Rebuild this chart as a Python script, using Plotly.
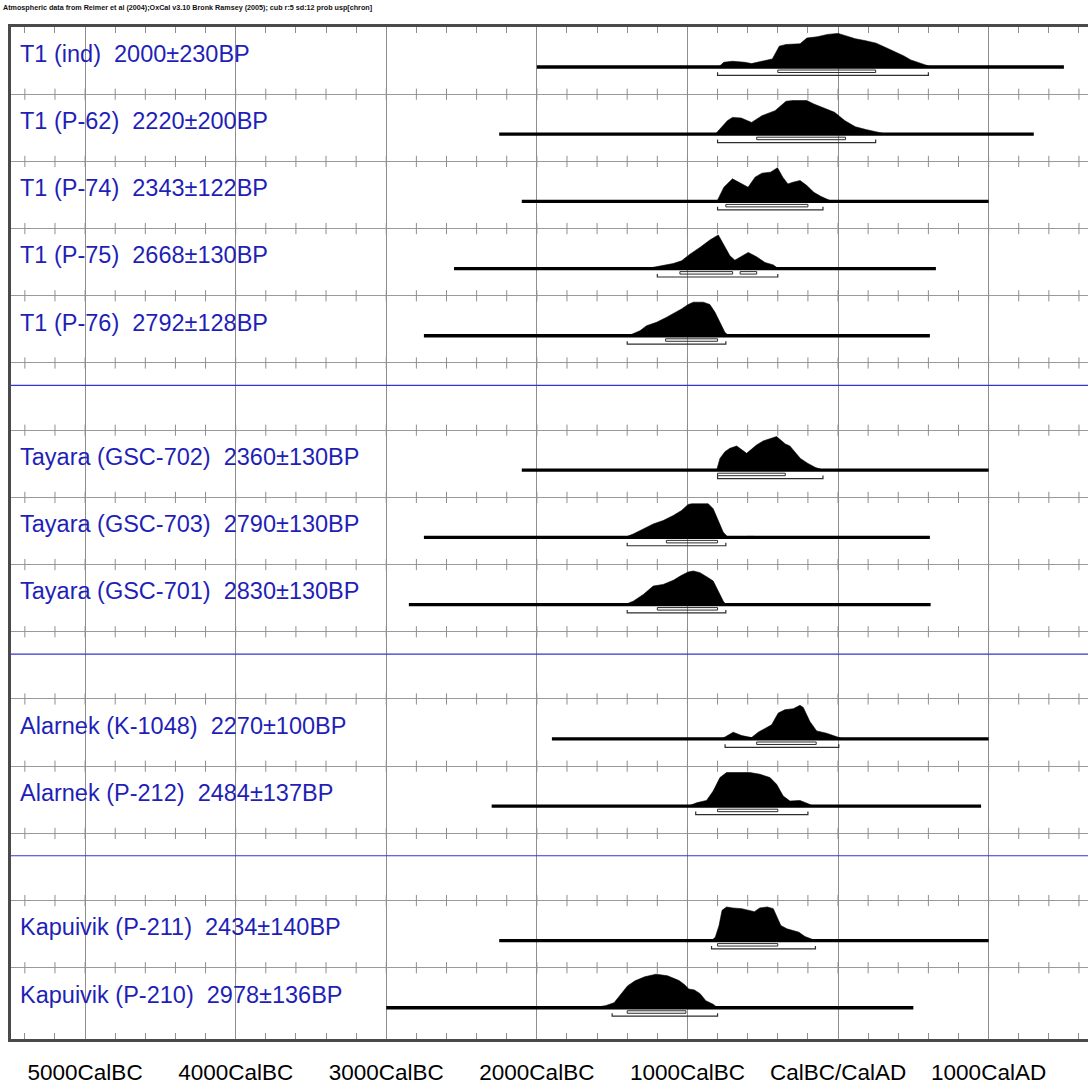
import plotly.graph_objects as go

# ---- samples (top to bottom) ----
names = ["T1 (ind)", "T1 (P-62)", "T1 (P-74)", "T1 (P-75)", "T1 (P-76)",
         "Tayara (GSC-702)", "Tayara (GSC-703)", "Tayara (GSC-701)",
         "Alarnek (K-1048)", "Alarnek (P-212)",
         "Kapuivik (P-211)", "Kapuivik (P-210)"]
bp_ages = [2000, 2220, 2343, 2668, 2792, 2360, 2790, 2830, 2270, 2484, 2434, 2978]
bp_errors = [230, 200, 122, 130, 128, 130, 130, 130, 100, 137, 140, 136]
rows = [0, 1, 2, 3, 4, 6, 7, 8, 10, 11, 13, 14]
spacer_rows = [5, 9, 12]

# calibrated span line of each sample (cal years, BC negative)
span_start = [-2000, -2250, -2100, -2550, -2750, -2100, -2750, -2850, -1900, -2300, -2250, -3000]
span_end = [1500, 1300, 1000, 650, 610, 1000, 610, 615, 1000, 950, 1000, 500]

# 68.2% and 95.4% probability ranges
range68 = [[(-400, 250)], [(-540, 50)], [(-745, -200)], [(-1050, -700), (-650, -540)],
           [(-1145, -800)], [(-800, -350)], [(-1140, -800)], [(-1200, -800)],
           [(-540, -145)], [(-800, -400)], [(-800, -400)], [(-1400, -1010)]]
range95 = [[(-800, 600)], [(-800, 250)], [(-800, -100)], [(-1200, -400)],
           [(-1400, -745)], [(-800, -100)], [(-1400, -745)], [(-1400, -745)],
           [(-750, 5)], [(-945, -200)], [(-840, -150)], [(-1500, -800)]]

# calibrated probability distributions: cal year, relative probability (%)
t1_ind_yr = [-793, -758, -701, -620, -574, -505, -436, -390, -345, -252, -207, -137, -69, 0,
             69, 115, 184, 253, 345, 437, 483, 552, 598, 620]
t1_ind_p = [0, 14, 17, 14, 10, 17, 24, 62, 67, 69, 86, 90, 97, 100, 90, 84, 78, 71, 52, 33,
            21, 10, 2, 0]
t1_p62_yr = [-815, -735, -701, -643, -574, -505, -418, -345, -299, -207, -161, -92, -23, 46,
             115, 184, 253, 299, 322]
t1_p62_p = [0, 40, 50, 48, 35, 55, 70, 98, 100, 100, 90, 78, 65, 40, 22, 14, 8, 2, 0]
t1_p74_yr = [-804, -758, -701, -643, -597, -551, -505, -448, -402, -367, -333, -299, -252,
             -207, -161, -115, -80, -40]
t1_p74_p = [0, 42, 67, 52, 42, 72, 84, 87, 100, 72, 52, 57, 62, 47, 27, 15, 8, 0]
t1_p75_yr = [-1271, -1183, -1094, -1039, -983, -917, -851, -795, -762, -718, -685, -651,
             -596, -541, -485, -430, -397]
t1_p75_p = [0, 7, 15, 23, 43, 63, 85, 100, 73, 38, 25, 33, 48, 35, 18, 11, 0]
t1_p76_yr = [-1393, -1361, -1315, -1271, -1205, -1138, -1094, -1039, -995, -961, -895, -851,
             -817, -784, -751, -729, -718, -620, -605, -585, -570]
t1_p76_p = [0, 7, 15, 30, 40, 55, 65, 80, 93, 100, 100, 93, 70, 40, 10, 2, 0, 0, 4, 4, 0]
gsc702_yr = [-806, -784, -751, -718, -673, -607, -541, -497, -408, -380, -350, -320, -290,
             -250, -200, -150, -110, -95]
gsc702_p = [0, 35, 55, 65, 72, 50, 75, 87, 100, 90, 78, 72, 55, 35, 20, 8, 2, 0]
gsc703_yr = [-1415, -1360, -1293, -1227, -1161, -1094, -1039, -995, -972, -862, -829, -795,
             -762, -740, -729, -620, -605, -560, -545]
gsc703_p = [0, 10, 25, 40, 50, 65, 80, 98, 100, 100, 85, 50, 15, 5, 0, 0, 3, 3, 0]
gsc701_yr = [-1415, -1360, -1293, -1227, -1161, -1094, -1039, -995, -961, -917, -862, -829,
             -795, -762, -744, -620, -605, -575, -560]
gsc701_p = [0, 10, 30, 55, 60, 72, 87, 97, 100, 95, 80, 70, 40, 10, 0, 0, 2, 2, 0]
k1048_yr = [-773, -696, -640, -574, -530, -485, -441, -397, -353, -297, -253, -231, -187,
            -142, -76, -32, 13, 35]
k1048_p = [0, 20, 10, 4, 20, 32, 42, 77, 87, 90, 100, 94, 52, 24, 17, 10, 2, 0]
p212_yr = [-995, -939, -873, -829, -784, -740, -651, -585, -519, -452, -408, -364, -319,
           -253, -198, -165]
p212_p = [0, 10, 17, 45, 85, 100, 100, 100, 95, 85, 65, 30, 15, 17, 7, 0]
p211_yr = [-840, -815, -790, -770, -740, -700, -640, -590, -555, -520, -470, -430, -405,
           -380, -340, -300, -260, -220, -180, -150]
p211_p = [0, 10, 45, 90, 100, 97, 95, 90, 86, 97, 100, 95, 70, 45, 35, 30, 25, 12, 5, 0]
p210_yr = [-1615, -1539, -1487, -1437, -1398, -1348, -1284, -1208, -1132, -1056, -1017,
           -992, -954, -916, -878, -827, -801]
p210_p = [0, 7, 15, 45, 65, 80, 92, 100, 95, 81, 68, 56, 53, 42, 21, 10, 0]

dist_years = [t1_ind_yr, t1_p62_yr, t1_p74_yr, t1_p75_yr, t1_p76_yr, gsc702_yr, gsc703_yr,
              gsc701_yr, k1048_yr, p212_yr, p211_yr, p210_yr]
dist_probs = [t1_ind_p, t1_p62_p, t1_p74_p, t1_p75_p, t1_p76_p, gsc702_p, gsc703_p,
              gsc701_p, k1048_p, p212_p, p211_p, p210_p]

# axis
tick_years = [-5000, -4000, -3000, -2000, -1000, 0, 1000]
tick_text = ["5000CalBC", "4000CalBC", "3000CalBC", "2000CalBC", "1000CalBC",
             "CalBC/CalAD", "1000CalAD"]
x_range = [-5492, 1660]
n_rows = 15.06

# geometry within a row (row units, y grows downward)
BASE = 0.595      # baseline of the distribution
PEAK = 0.50       # height of the distribution maximum
IN_TOP, IN_BOT = 0.64, 0.677
OUT_Y, HOOK = 0.72, 0.045
LABEL_Y = 0.40

BLUE = "#1f1fb8"
GRID = "#8e8e8e"
FONT = "Liberation Sans, Arial, sans-serif"

fig = go.Figure()

# separator ticks every 200 years on each row boundary
tick_x, tick_y = [], []
for r in range(1, 15):
    for yr in range(-5400, 1700, 200):
        tick_x.append(yr)
        tick_y.append(r)
fig.add_trace(go.Scatter(x=tick_x, y=tick_y, mode="markers", hoverinfo="skip",
                         marker=dict(symbol="line-ns", size=8,
                                     line=dict(width=1, color=GRID))))

for i, r in enumerate(rows):
    base = r + BASE
    xs = dist_years[i]
    ys = [base - p / 100.0 * PEAK for p in dist_probs[i]]
    fig.add_trace(go.Scatter(x=xs + [xs[-1], xs[0]], y=ys + [base, base], mode="lines",
                             fill="toself", fillcolor="black",
                             line=dict(color="black", width=0.6), hoverinfo="skip"))
    # span line
    fig.add_trace(go.Scatter(x=[span_start[i], span_end[i]], y=[base, base], mode="lines",
                             line=dict(color="black", width=3.3), hoverinfo="skip"))
    # 68.2% range (hollow bar)
    for a, b in range68[i]:
        fig.add_trace(go.Scatter(x=[a, a, b, b, a], y=[r + IN_TOP, r + IN_BOT, r + IN_BOT,
                                                       r + IN_TOP, r + IN_TOP],
                                 mode="lines", line=dict(color="#2e2e2e", width=1),
                                 hoverinfo="skip"))
    # 95.4% range (bracket)
    for a, b in range95[i]:
        fig.add_trace(go.Scatter(x=[a, a, b, b],
                                 y=[r + OUT_Y - HOOK, r + OUT_Y, r + OUT_Y, r + OUT_Y - HOOK],
                                 mode="lines", line=dict(color="#2e2e2e", width=1.2),
                                 hoverinfo="skip"))
    fig.add_annotation(x=0.0065, xref="paper", y=r + LABEL_Y, yref="y",
                       text=f"{names[i]}\u00a0 {bp_ages[i]}\u00b1{bp_errors[i]}BP",
                       showarrow=False, xanchor="left", yanchor="middle",
                       font=dict(family=FONT, size=23.5, color=BLUE))

# group separators
for s in spacer_rows:
    fig.add_shape(type="line", xref="paper", x0=0, x1=1, y0=s + 1 / 3, y1=s + 1 / 3,
                  line=dict(color="#3434d0", width=1.2))

fig.add_annotation(x=-0.0093, xref="paper", y=1.0188, yref="paper",
                   text="Atmospheric data from Reimer et al (2004);OxCal v3.10 Bronk Ramsey "
                        "(2005); cub r:5 sd:12 prob usp[chron]",
                   showarrow=False, xanchor="left", yanchor="middle",
                   font=dict(family=FONT, size=7.2, color="#111", weight="bold"))

fig.update_layout(
    width=1088, height=1086,
    margin=dict(l=11, r=0, t=27, b=47, pad=0, autoexpand=False),
    plot_bgcolor="white", paper_bgcolor="white",
    showlegend=False,
    xaxis=dict(range=x_range, tickmode="array", tickvals=tick_years, ticktext=tick_text,
               automargin=False,
               showgrid=True, gridcolor=GRID, gridwidth=1.3, zeroline=False,
               showline=True, linecolor="#4a4a4a", linewidth=2.5, mirror="ticks",
               ticks="inside", ticklen=6, tickcolor=GRID, tickwidth=1,
               ticklabelstandoff=11,
               tickfont=dict(family=FONT, size=22.5, color="black"),
               minor=dict(tick0=0, dtick=200, ticks="inside", ticklen=6,
                          tickcolor=GRID, tickwidth=1, showgrid=False)),
    yaxis=dict(range=[n_rows, 0], tickmode="array", tickvals=list(range(1, 15)),
               automargin=False,
               showgrid=True, gridcolor="#9a9a9a", gridwidth=1.2, zeroline=False,
               showticklabels=False, ticks="", showline=True, linecolor="#4a4a4a",
               linewidth=2.5),
)

fig.write_html("out.html")
